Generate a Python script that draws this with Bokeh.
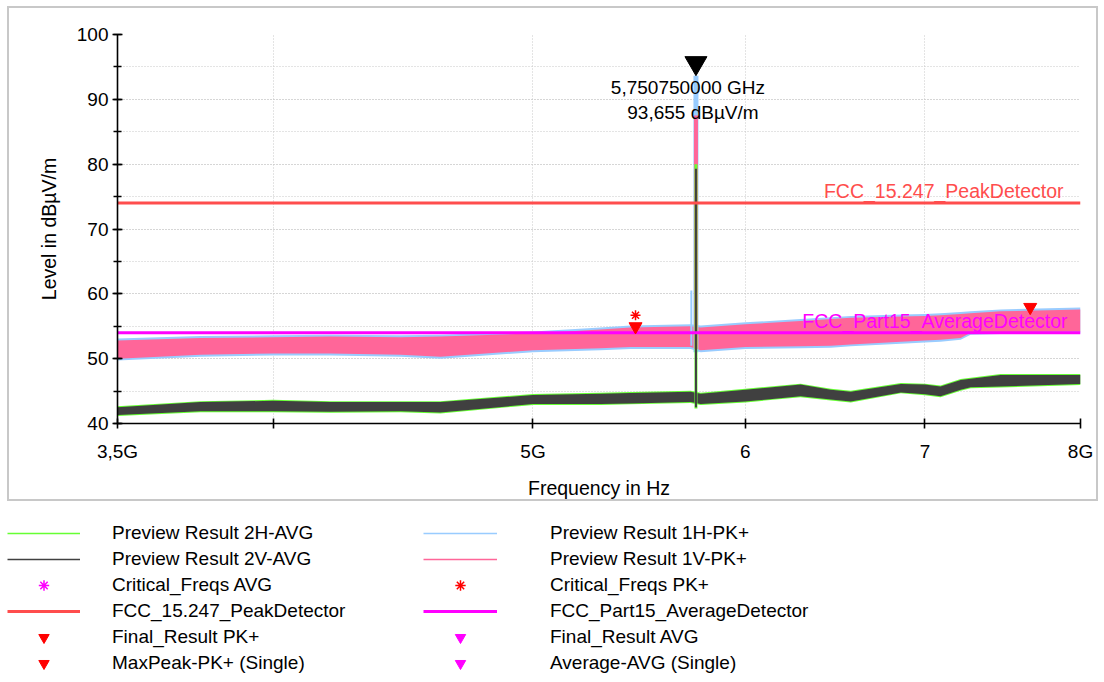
from bokeh.plotting import figure
from bokeh.models import (Range1d, FixedTicker, SingleIntervalTicker, Legend, LegendItem,
                          Label, ColumnDataSource)
from bokeh.transform import dodge
from bokeh.embed import file_html
from bokeh.resources import INLINE

FONT = "Liberation Sans"

# ---------------- data (frequencies in GHz, levels in dBuV/m) ----------------
band_freq = [3.5, 3.758, 4.0, 4.202, 4.463, 4.618, 5.0, 5.298, 5.437, 5.725, 5.774,
             6.0, 6.291, 6.457, 6.568, 6.857, 7.0, 7.094, 7.218, 7.28, 7.47, 8.0]
# Preview Result 1V-PK+ (pink) envelope
pk1v_lo = [50.0, 50.6, 50.8, 50.8, 50.6, 50.3, 51.3, 51.6, 51.8, 51.8, 51.3,
           51.8, 51.9, 52.0, 52.2, 52.6, 52.8, 52.9, 53.2, 54.0, 54.1, 54.2]
pk1v_hi = [52.8, 53.2, 53.3, 53.4, 53.3, 53.4, 53.9, 54.5, 54.8, 55.0, 54.8,
           55.3, 55.8, 56.1, 56.3, 56.5, 56.6, 56.7, 56.9, 57.0, 57.3, 57.6]
# Preview Result 1H-PK+ (blue) envelope
pk1h_lo = [49.7, 50.3, 50.5, 50.5, 50.3, 50.0, 51.0, 51.3, 51.5, 51.5, 51.0,
           51.5, 51.6, 51.7, 51.9, 52.3, 52.5, 52.6, 52.9, 53.7, 53.8, 53.9]
pk1h_hi = [53.1, 53.5, 53.6, 53.7, 53.6, 53.7, 54.2, 54.8, 55.1, 55.3, 55.1,
           55.6, 56.1, 56.4, 56.6, 56.8, 56.9, 57.0, 57.2, 57.3, 57.6, 57.9]
# Preview Result 2V-AVG (dark grey) envelope
avg2v_lo = [41.3, 41.9, 41.9, 41.8, 41.9, 41.7, 43.0, 43.0, 43.1, 43.3, 43.0,
            43.4, 44.2, 43.7, 43.4, 44.8, 44.5, 44.2, 45.2, 45.6, 45.7, 46.1]
avg2v_hi = [42.5, 43.3, 43.5, 43.3, 43.3, 43.3, 44.4, 44.6, 44.7, 44.9, 44.6,
            45.2, 46.0, 45.2, 44.9, 46.1, 46.0, 45.7, 46.7, 46.9, 47.5, 47.5]
# Preview Result 2H-AVG (green) envelope
avg2h_lo = [41.15, 41.75, 41.75, 41.65, 41.75, 41.55, 42.85, 42.85, 42.95, 43.15, 42.85,
            43.25, 44.05, 43.55, 43.25, 44.65, 44.35, 44.05, 45.05, 45.45, 45.55, 45.95]
avg2h_hi = [42.65, 43.45, 43.65, 43.45, 43.45, 43.45, 44.55, 44.75, 44.85, 45.05, 44.75,
            45.35, 46.15, 45.35, 45.05, 46.25, 46.15, 45.85, 46.85, 47.05, 47.65, 47.65]

# carrier spike at 5.75075 GHz
spike_freq = [5.75075]
pk1h_spike_base, pk1h_spike_peak = [51.0], [93.655]
pk1v_spike_base, pk1v_spike_peak = [51.5], [87.5]
avg2h_spike_base, avg2h_spike_peak = [42.3], [80.0]
avg2v_spike_base, avg2v_spike_peak = [42.5], [79.3]
side_spike_freq, side_spike_base, side_spike_peak = [5.728], [52.0], [60.5]

# limit lines
limit_freq = [3.5, 8.0]
limit_pk = [74.0, 74.0]
limit_avg = [54.0, 54.0]

# markers
final_pk_freq = [5.46, 7.662]
final_pk_level = [54.96, 57.94]
crit_pk_freq = [5.46]
crit_pk_level = [56.7]
peak_marker_freq = [5.75075]
peak_marker_level = [93.655]

x_ticks = [3.5, 4.0, 5.0, 6.0, 7.0, 8.0]
x_tick_labels = ["3,5G", "", "5G", "6", "7", "8G"]

# ---------------- colours ----------------
C_GREEN = "#66FF33"
C_GREY = "#404040"
C_BLUE = "#99CCFF"
C_PINK = "#FF6699"
C_RED_LIM = "#FF4D4D"
C_MAG = "#FF00FF"
C_RED = "#FF0000"
GRID = "#C8C8C8"

# main chart panel (framed by a light grey box)
p = figure(width=1091, height=495, x_axis_type="log", x_range=Range1d(3.5, 8.0),
           y_range=Range1d(40, 100), output_backend="svg", toolbar_location=None,
           min_border_left=110, min_border_right=18, min_border_top=28,
           min_border_bottom=78)
p.margin = (6, 0, 0, 7)
p.styles = {"box-shadow": "inset 0 0 0 2px #C8C8C8",
            "outline": "2px solid #C8C8C8", "outline-offset": "-2px"}
p.outline_line_color = None
p.background_fill_alpha = 0
p.border_fill_alpha = 0

# axes
p.xaxis.ticker = FixedTicker(ticks=x_ticks)
p.xaxis.major_label_overrides = dict(zip(x_ticks, x_tick_labels))
p.yaxis.ticker = SingleIntervalTicker(interval=10, num_minor_ticks=2)
for ax in (p.xaxis[0], p.yaxis[0]):
    ax.axis_line_color = "black"
    ax.axis_line_width = 1.6
    ax.major_tick_line_color = "black"
    ax.major_tick_line_width = 1.6
    ax.minor_tick_line_color = "black"
    ax.minor_tick_line_width = 1.6
    ax.major_tick_in = 5
    ax.major_tick_out = 5
    ax.minor_tick_in = 4
    ax.minor_tick_out = 4
    ax.major_label_text_font = FONT
    ax.major_label_text_font_size = "19px"
    ax.major_label_text_color = "black"
    ax.axis_label_text_font = FONT
    ax.axis_label_text_font_size = "19.5px"
    ax.axis_label_text_font_style = "normal"
    ax.axis_label_text_color = "black"
p.xaxis.axis_label = "Frequency in Hz"
p.yaxis.axis_label = "Level in dBµV/m"
p.yaxis.major_label_standoff = 4
p.xaxis.major_label_standoff = 12
p.xaxis.axis_label_standoff = 12
p.yaxis.axis_label_standoff = 14

for g in (p.xgrid[0], p.ygrid[0]):
    g.grid_line_color = GRID
    g.grid_line_dash = "1 2"
    g.grid_line_width = 1
p.ygrid.minor_grid_line_color = GRID
p.ygrid.minor_grid_line_dash = "1 2"

# ---------------- traces ----------------
band = ColumnDataSource(dict(f=band_freq, pk1v_lo=pk1v_lo, pk1v_hi=pk1v_hi,
                             pk1h_lo=pk1h_lo, pk1h_hi=pk1h_hi,
                             avg2v_lo=avg2v_lo, avg2v_hi=avg2v_hi,
                             avg2h_lo=avg2h_lo, avg2h_hi=avg2h_hi))

p.varea(x="f", y1="pk1h_lo", y2="pk1h_hi", source=band, fill_color=C_BLUE)
p.varea(x="f", y1="pk1v_lo", y2="pk1v_hi", source=band, fill_color=C_PINK)
p.segment(x0=side_spike_freq, y0=side_spike_base, x1=side_spike_freq, y1=side_spike_peak,
          line_color=C_BLUE, line_width=2)
p.segment(x0=spike_freq, y0=pk1h_spike_base, x1=spike_freq, y1=pk1h_spike_peak,
          line_color=C_BLUE, line_width=5)
p.segment(x0=spike_freq, y0=pk1v_spike_base, x1=spike_freq, y1=pk1v_spike_peak,
          line_color=C_PINK, line_width=4)
p.varea(x="f", y1="avg2h_lo", y2="avg2h_hi", source=band, fill_color=C_GREEN)
p.varea(x="f", y1="avg2v_lo", y2="avg2v_hi", source=band, fill_color=C_GREY)
p.segment(x0=spike_freq, y0=avg2h_spike_base, x1=spike_freq, y1=avg2h_spike_peak,
          line_color=C_GREEN, line_width=3)
p.segment(x0=spike_freq, y0=avg2v_spike_base, x1=spike_freq, y1=avg2v_spike_peak,
          line_color=C_GREY, line_width=2)

# limit lines
p.line(limit_freq, limit_pk, line_color=C_RED_LIM, line_width=3)
p.line(limit_freq, limit_avg, line_color=C_MAG, line_width=3)

# markers
p.scatter(crit_pk_freq, crit_pk_level, marker="asterisk", size=10,
          line_color=C_RED, line_width=1.5)
p.scatter(final_pk_freq, final_pk_level, marker="inverted_triangle", size=13,
          fill_color=C_RED, line_color=C_RED)
pm = ColumnDataSource(dict(f=peak_marker_freq, lvl=peak_marker_level))
p.scatter(x="f", y=dodge("lvl", 1.95), source=pm, marker="inverted_triangle", size=22,
          fill_color="black", line_color="black")

# texts
p.add_layout(Label(x=peak_marker_freq[0], y=peak_marker_level[0], text="5,750750000 GHz",
                   x_offset=-8, y_offset=-12, text_align="center", text_baseline="middle",
                   text_font=FONT, text_font_size="19px", text_color="black"))
p.add_layout(Label(x=peak_marker_freq[0], y=peak_marker_level[0], text="93,655 dBµV/m",
                   x_offset=-3, y_offset=-37, text_align="center", text_baseline="middle",
                   text_font=FONT, text_font_size="19px", text_color="black"))
p.add_layout(Label(x=limit_freq[1], y=limit_pk[1], text="FCC_15.247_PeakDetector",
                   x_offset=-17, y_offset=12, text_align="right", text_baseline="middle",
                   text_font=FONT, text_font_size="19.5px", text_color=C_RED_LIM))
p.add_layout(Label(x=limit_freq[1], y=limit_avg[1], text="FCC_Part15_AverageDetector",
                   x_offset=-13, y_offset=12, text_align="right", text_baseline="middle",
                   text_font=FONT, text_font_size="19.5px", text_color=C_MAG))

# ---------------- legend panel ----------------
LH = 177
lf = figure(width=1104, height=LH, x_range=Range1d(0, 1), y_range=Range1d(0, 1),
            output_backend="svg", toolbar_location=None, x_axis_location=None,
            y_axis_location=None, min_border=0)
lf.grid.visible = False
lf.outline_line_color = None
lf.background_fill_alpha = 0
lf.border_fill_alpha = 0

# legend proxies sit outside the legend panel's visible range
proxy = dict(x=[-5.0], y=[-5.0])


def proxy_line(color, width):
    return lf.line(x="x", y="y", source=ColumnDataSource(proxy), line_color=color, line_width=width)


def proxy_marker(marker, color):
    if marker == "asterisk":
        return lf.scatter(x="x", y="y", source=ColumnDataSource(proxy), marker=marker,
                          line_color=color, line_width=1.5)
    return lf.scatter(x="x", y="y", source=ColumnDataSource(proxy), marker=marker,
                      fill_color=color, line_color=color)


left_items = [
    LegendItem(label="Preview Result 2H-AVG", renderers=[proxy_line(C_GREEN, 1.5)]),
    LegendItem(label="Preview Result 2V-AVG", renderers=[proxy_line(C_GREY, 1.5)]),
    LegendItem(label="Critical_Freqs AVG", renderers=[proxy_marker("asterisk", C_MAG)]),
    LegendItem(label="FCC_15.247_PeakDetector", renderers=[proxy_line(C_RED_LIM, 3)]),
    LegendItem(label="Final_Result PK+", renderers=[proxy_marker("inverted_triangle", C_RED)]),
    LegendItem(label="MaxPeak-PK+ (Single)", renderers=[proxy_marker("inverted_triangle", C_RED)]),
]
right_items = [
    LegendItem(label="Preview Result 1H-PK+", renderers=[proxy_line(C_BLUE, 1.5)]),
    LegendItem(label="Preview Result 1V-PK+", renderers=[proxy_line(C_PINK, 1.5)]),
    LegendItem(label="Critical_Freqs PK+", renderers=[proxy_marker("asterisk", C_RED)]),
    LegendItem(label="FCC_Part15_AverageDetector", renderers=[proxy_line(C_MAG, 3)]),
    LegendItem(label="Final_Result AVG", renderers=[proxy_marker("inverted_triangle", C_MAG)]),
    LegendItem(label="Average-AVG (Single)", renderers=[proxy_marker("inverted_triangle", C_MAG)]),
]


def make_legend(items, loc, glyph_w, standoff):
    return Legend(items=items, location=loc, orientation="vertical",
                  glyph_width=glyph_w, glyph_height=26, label_height=20,
                  spacing=0, padding=0, margin=0, label_standoff=standoff,
                  border_line_color=None, background_fill_alpha=0,
                  label_text_font=FONT, label_text_font_size="19px",
                  label_text_color="black", label_text_baseline="middle")


lf.add_layout(make_legend(left_items, (7, 2), 73, 32), "center")
lf.add_layout(make_legend(right_items, (423, 2), 74, 53), "center")

open("out.html", "w").write(file_html([p, lf], INLINE))
